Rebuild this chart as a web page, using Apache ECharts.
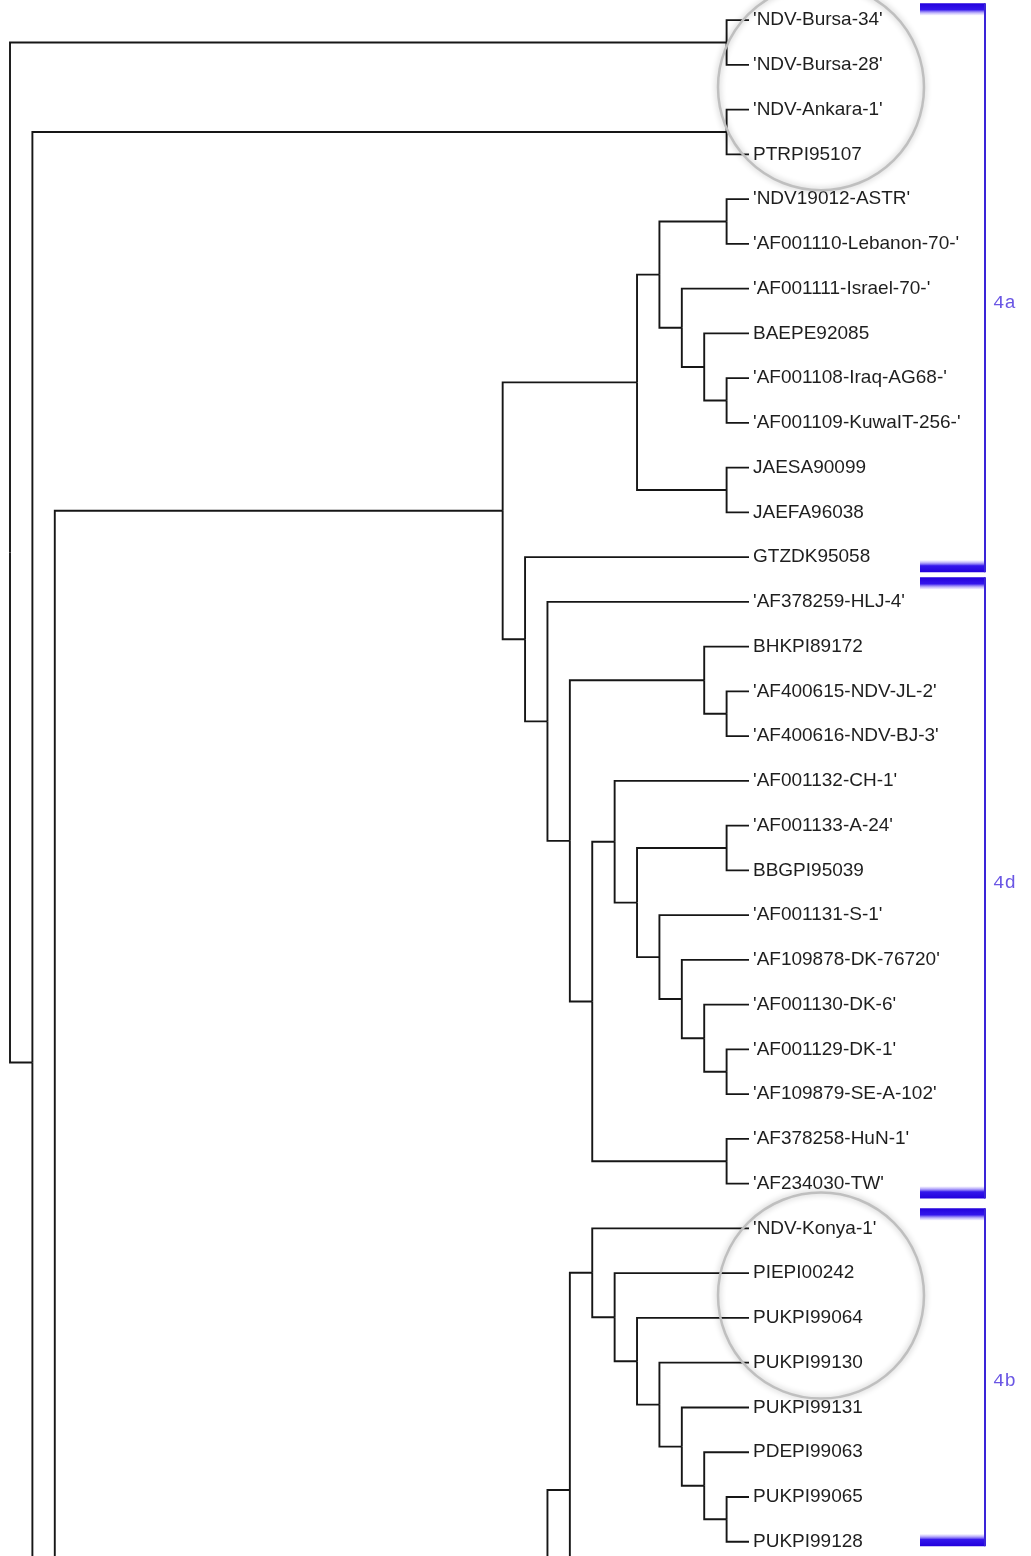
<!DOCTYPE html>
<html>
<head>
<meta charset="utf-8">
<title>NDV genotype IV tree</title>
<script src="https://cdn.jsdelivr.net/npm/echarts@6/dist/echarts.min.js"></script>
<style>
  html, body { margin: 0; padding: 0; background: #fff; }
  #chart { width: 1031px; height: 1556px; }
</style>
</head>
<body>
<div id="chart"></div>
<script>
// leaf names, top to bottom (row index = position in this list)
const leaves = [
  "'NDV-Bursa-34'", "'NDV-Bursa-28'", "'NDV-Ankara-1'", 'PTRPI95107',
  "'NDV19012-ASTR'", "'AF001110-Lebanon-70-'", "'AF001111-Israel-70-'", 'BAEPE92085',
  "'AF001108-Iraq-AG68-'", "'AF001109-KuwaIT-256-'", 'JAESA90099', 'JAEFA96038',
  'GTZDK95058', "'AF378259-HLJ-4'", 'BHKPI89172', "'AF400615-NDV-JL-2'",
  "'AF400616-NDV-BJ-3'", "'AF001132-CH-1'", "'AF001133-A-24'", 'BBGPI95039',
  "'AF001131-S-1'", "'AF109878-DK-76720'", "'AF001130-DK-6'", "'AF001129-DK-1'",
  "'AF109879-SE-A-102'", "'AF378258-HuN-1'", "'AF234030-TW'", "'NDV-Konya-1'",
  'PIEPI00242', 'PUKPI99064', 'PUKPI99130', 'PUKPI99131',
  'PDEPI99063', 'PUKPI99065', 'PUKPI99128'
];

// clades, leaves given by row index
const clade4a = [[[4, 5], [6, [7, [8, 9]]]], [10, 11]];
const clade4d = [13, [[14, [15, 16]], [[17, [[18, 19], [20, [21, [22, [23, 24]]]]]], [25, 26]]]];
const clade4b = [27, [28, [29, [30, [31, [32, [33, 34]]]]]]];
// subtrees that go on below the bottom of the picture: row and depth
const hidden = [{ y: 37.7, h: 6 }, { y: 40, h: 8 }, { y: 118, h: 29 }];
const tree = [[0, 1], [[2, 3], [[clade4a, [12, clade4d]], [[[clade4b, hidden[0]], hidden[1]], hidden[2]]]]];

// bracket groups: label, first row, last row, row of the label
const groupNames = ['4a', '4d', '4b'];
const groupTop = [-0.38, 12.45, 26.55];
const groupBottom = [12.34, 26.33, 34.1];
const groupLabelRow = [6.33, 19.28, 30.4];

// rows that the two lens circles are centred on
const lensRows = [1.5, 28.5];

// cladogram layout: x = depth above the tips, y = mean of outer children
function place(node) {
  if (typeof node === 'number') return { h: 0, y: node, kids: [] };
  if (!Array.isArray(node)) return { h: node.h, y: node.y, kids: [] };
  const kids = node.map(place);
  return {
    h: Math.max.apply(null, kids.map(k => k.h)) + 1,
    y: (kids[0].y + kids[kids.length - 1].y) / 2,
    kids: kids
  };
}

const edges = [];
function walk(n) {
  n.kids.forEach(k => {
    edges.push([n.h, n.y, k.h, k.y]);
    walk(k);
  });
}
const root = place(tree);
walk(root);

const chart = echarts.init(document.getElementById('chart'));

chart.setOption({
  animation: false,
  backgroundColor: '#fff',
  grid: { left: 10, right: 282, top: 0, bottom: 0 },
  xAxis: { type: 'value', min: 0, max: root.h, inverse: true, show: false },
  yAxis: { type: 'value', min: -0.45, max: 34.32, inverse: true, show: false },
  series: [
    {
      // branches
      type: 'custom',
      data: edges,
      encode: { x: [0, 2], y: [1, 3] },
      renderItem(params, api) {
        const a = api.coord([api.value(0), api.value(1)]);
        const b = api.coord([api.value(0), api.value(3)]);
        const c = api.coord([api.value(2), api.value(3)]);
        return {
          type: 'polyline',
          shape: { points: [a, b, c] },
          style: { stroke: '#161616', lineWidth: 1.9, fill: 'none' }
        };
      }
    },
    {
      // tip labels
      type: 'custom',
      data: leaves.map((name, i) => [0, i]),
      encode: { x: 0, y: 1 },
      renderItem(params, api) {
        const p = api.coord([api.value(0), api.value(1)]);
        return {
          type: 'text',
          x: p[0] + 4,
          y: p[1],
          style: {
            text: leaves[params.dataIndex],
            fontSize: 19,
            fontFamily: '"Liberation Sans", Arial, sans-serif',
            fill: '#1e1e1e',
            align: 'left',
            verticalAlign: 'middle'
          }
        };
      }
    },
    {
      // group brackets
      type: 'custom',
      data: groupNames.map((g, i) => [0, groupTop[i], groupBottom[i], groupLabelRow[i]]),
      renderItem(params, api) {
        const t = api.coord([0, api.value(1)]);
        const b = api.coord([0, api.value(2)]);
        const m = api.coord([0, api.value(3)]);
        const lx = t[0] + 236;
        const bw = 65, bh = 12;
        const solid = '#2200dc';
        return {
          type: 'group',
          children: [
            {
              type: 'rect',
              shape: { x: lx - bw, y: t[1], width: bw, height: bh },
              style: {
                fill: {
                  type: 'linear', x: 0, y: 0, x2: 0, y2: 1,
                  colorStops: [
                    { offset: 0, color: solid },
                    { offset: 0.55, color: '#3316ec' },
                    { offset: 1, color: 'rgba(210,200,255,0.3)' }
                  ]
                }
              }
            },
            {
              type: 'rect',
              shape: { x: lx - bw, y: b[1] - bh, width: bw, height: bh },
              style: {
                fill: {
                  type: 'linear', x: 0, y: 0, x2: 0, y2: 1,
                  colorStops: [
                    { offset: 0, color: 'rgba(210,200,255,0.3)' },
                    { offset: 0.45, color: '#3316ec' },
                    { offset: 1, color: solid }
                  ]
                }
              }
            },
            {
              type: 'line',
              shape: { x1: lx, y1: t[1], x2: lx, y2: b[1] },
              style: { stroke: '#3a24d8', lineWidth: 2 }
            },
            {
              type: 'text',
              x: lx + 8,
              y: m[1],
              style: {
                text: groupNames[params.dataIndex],
                fontSize: 19,
                fontFamily: '"Liberation Mono", "Courier New", monospace',
                fill: '#6a56e4',
                align: 'left',
                verticalAlign: 'middle'
              }
            }
          ]
        };
      }
    },
    {
      // lens circles over the Turkish isolates
      type: 'custom',
      z: 5,
      data: lensRows.map(r => [0, r]),
      renderItem(params, api) {
        const p = api.coord([api.value(0), api.value(1)]);
        return {
          type: 'circle',
          shape: { cx: p[0] + 72, cy: p[1], r: 103 },
          style: {
            fill: 'none',
            stroke: '#bfbfbf',
            lineWidth: 2.5,
            shadowBlur: 6,
            shadowColor: 'rgba(0,0,0,0.3)'
          }
        };
      }
    }
  ]
});
</script>
</body>
</html>
